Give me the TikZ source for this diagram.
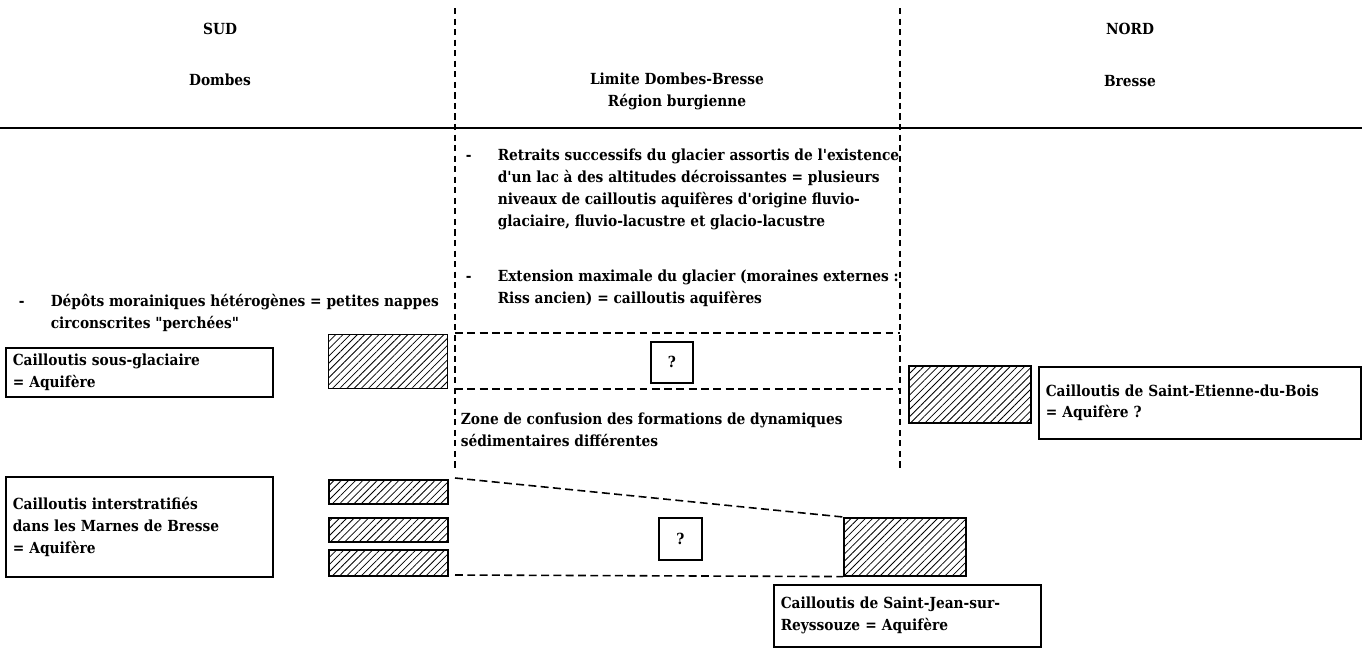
\documentclass[tikz,border=0pt]{standalone}
\usepackage{fontspec}
\setmainfont{DejaVu Serif Condensed}[Ligatures=TeXOff]
\usetikzlibrary{patterns.meta, positioning}

\tikzset{
  colhead/.style={anchor=base, align=center},
  txt/.style={anchor=base west, align=left},
  cadre/.style={draw, anchor=north west, align=left, inner xsep=1.4mm},
  hachure/.style={draw, anchor=north west, inner sep=0pt,
    pattern={Lines[angle=45, distance=2.9pt, line width=0.45pt]}},
  qbox/.style={draw, anchor=north west, minimum width=8.4mm, minimum height=8.2mm},
  limite/.style={dash pattern=on 3.5pt off 2.5pt},
  tirets/.style={dash pattern=on 4.5pt off 2.5pt},
}

\begin{document}
\begin{tikzpicture}[x=0.2mm, y=-0.2mm, line width=0.9pt,
  every node/.style={font=\fontsize{8.7}{12.5}\selectfont\bfseries, inner sep=0pt}]
\useasboundingbox (0,0) rectangle (1362,656);

% en-tetes des colonnes
\node[colhead] (sud) at (220,35) {SUD};
\node[colhead] (dombes) at (220,85) {Dombes};
\node[colhead] (limite) at (677,106) {Limite Dombes-Bresse\\Région burgienne};
\node[colhead] (nord) at (1130,35) {NORD};
\node[colhead] (bresse) at (1130,86) {Bresse};
\draw (0,128) -- (1362,128);

% limites de la region burgienne
\coordinate (gh) at (455,8);
\coordinate (gb) at (455,470);
\coordinate (dh) at (900,8);
\coordinate (db) at (900,470);
\draw[limite] (gh) -- (gb);
\draw[limite] (dh) -- (db);

% zone centrale
\node[txt] (t1) at (465,160) {-};
\node[txt] (retraits) at (497,226) {Retraits successifs du glacier assortis de l'existence\\
  d'un lac à des altitudes décroissantes = plusieurs\\
  niveaux de cailloutis aquifères d'origine fluvio-\\
  glaciaire, fluvio-lacustre et glacio-lacustre};
\node[txt] (t2) at (465,281) {-};
\node[txt] (extension) at (497,303) {Extension maximale du glacier (moraines externes :\\
  Riss ancien) = cailloutis aquifères};
\coordinate (zg1) at (455,333);
\coordinate (zd1) at (900,333);
\coordinate (zg2) at (455,389);
\coordinate (zd2) at (900,389);
\draw[tirets] (zg1) -- (zd1);
\draw[tirets] (zg2) -- (zd2);
\node[qbox] (q1) at (650,341) {?};
\node[txt] (confusion) at (460,446) {Zone de confusion des formations de dynamiques\\
  sédimentaires différentes};

% Dombes
\node[txt] (t3) at (18,306) {-};
\node[txt] (depots) at (50,328) {Dépôts morainiques hétérogènes = petites nappes\\
  circonscrites "perchées"};
\node[cadre, minimum width=53.4mm, minimum height=9.8mm, text width=50.6mm]
  (sousglac) at (5,347) {Cailloutis sous-glaciaire\\= Aquifère};
\node[hachure, minimum width=23.8mm, minimum height=10.8mm] (h1) at (328,334) {};
\node[cadre, minimum width=53.4mm, minimum height=20mm, text width=50.6mm]
  (interstr) at (5,476) {Cailloutis interstratifiés\\dans les Marnes de Bresse\\= Aquifère};
\node[hachure, minimum width=23.8mm, minimum height=4.8mm] (b1) at (328,479) {};
\node[hachure, minimum width=23.8mm, minimum height=4.8mm] (b2) at (328,517) {};
\node[hachure, minimum width=23.8mm, minimum height=5.2mm] (b3) at (328,549) {};

% Bresse
\node[hachure, minimum width=24.4mm, minimum height=11.4mm] (h2) at (908,365) {};
\node[cadre, minimum width=64.4mm, minimum height=14.4mm, text width=61.6mm]
  (stetienne) at (1038,366) {Cailloutis de Saint-Etienne-du-Bois\\= Aquifère ?};
\node[hachure, minimum width=24.4mm, minimum height=11.6mm] (h3) at (843,517) {};
\node[cadre, minimum width=53.4mm, minimum height=12.4mm, text width=50.6mm]
  (stjean) at (773,584) {Cailloutis de Saint-Jean-sur-\\Reyssouze = Aquifère};

% raccord des cailloutis
\coordinate (rh) at (455,478);
\coordinate (rb) at (455,575);
\draw[tirets] (rh) -- (h3.north west);
\draw[tirets] (rb) -- (h3.south west);
\node[qbox, minimum width=8.6mm, minimum height=8.4mm] (q2) at (658,517) {?};
\end{tikzpicture}
\end{document}
